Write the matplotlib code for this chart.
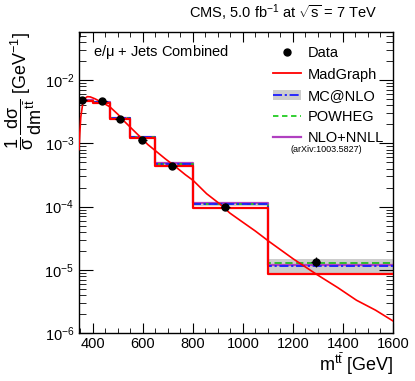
import numpy as np
import matplotlib
matplotlib.use("Agg")
import matplotlib.pyplot as plt
from matplotlib.lines import Line2D
from matplotlib.patches import Patch

plt.rcParams['font.family'] = ['Liberation Sans', 'DejaVu Sans']
plt.rcParams['mathtext.fontset'] = 'custom'
plt.rcParams['mathtext.rm'] = 'Liberation Sans'
plt.rcParams['mathtext.it'] = 'Liberation Sans'
plt.rcParams['mathtext.bf'] = 'Liberation Sans:bold'

# bin edges of m_ttbar [GeV]
edges = [345, 400, 470, 550, 650, 800, 1100, 1600]

# measured data
data_x = [358, 437, 508, 597, 717, 929, 1292]
data_y = [4.8e-3, 4.7e-3, 2.47e-3, 1.13e-3, 4.4e-4, 1.0e-4, 1.35e-5]
data_err = [2.5e-4, 2.2e-4, 1.2e-4, 6e-5, 2.5e-5, 7e-6, 2.5e-6]
data_xerr = [18, 18, 18, 18, 18, 18, 18]

# predictions (binned)
madgraph = [4.65e-3, 4.4e-3, 2.47e-3, 1.2e-3, 4.4e-4, 9.4e-5, 8.7e-6]
mcnlo = [4.75e-3, 4.55e-3, 2.55e-3, 1.25e-3, 4.8e-4, 1.1e-4, 1.16e-5]
mcnlo_lo = [4.6e-3, 4.4e-3, 2.48e-3, 1.21e-3, 4.6e-4, 1.02e-4, 8.3e-6]
mcnlo_hi = [4.9e-3, 4.7e-3, 2.62e-3, 1.29e-3, 5.0e-4, 1.14e-4, 1.46e-5]
powheg = [4.75e-3, 4.55e-3, 2.55e-3, 1.25e-3, 4.8e-4, 1.1e-4, 1.26e-5]
nnll = [4.8e-3, 4.6e-3, 2.57e-3, 1.27e-3, 4.9e-4, 1.15e-4, 1.18e-5]

# MadGraph smooth curve
curve_x = [345, 348, 352, 360, 370, 378, 390, 408, 440, 468, 500, 528, 560, 594,
           620, 648, 690, 721, 770, 801, 855, 908, 948, 988, 1050, 1105, 1200,
           1294, 1380, 1454, 1530, 1600]
curve_y = [8e-4, 1.4e-3, 2.6e-3, 4.3e-3, 5.2e-3, 5.5e-3, 5.45e-3, 5.1e-3, 4.4e-3,
           3.8e-3, 2.9e-3, 2.2e-3, 1.65e-3, 1.22e-3, 9.6e-4, 7.8e-4, 5.7e-4,
           4.6e-4, 3.2e-4, 2.6e-4, 1.6e-4, 1.1e-4, 7.9e-5, 6.1e-5, 4.1e-5,
           2.8e-5, 1.5e-5, 8.5e-6, 5.2e-6, 3.3e-6, 2.3e-6, 1.55e-6]


def steps(vals):
    return list(vals) + [vals[-1]]


fig = plt.figure(figsize=(4.15, 3.81), dpi=100)
ax = fig.add_axes([0.1904, 0.126, 0.7566, 0.790])

ax.fill_between(edges, steps(mcnlo_lo), steps(mcnlo_hi), step='post',
                color='#cccccc', lw=0, zorder=1)
ax.step(edges, steps(nnll), where='post', color='#b040c0', lw=1.6, zorder=2)
ax.step(edges, steps(powheg), where='post', color='#22bb22', lw=1.3,
        ls=(0, (4, 2)), zorder=3)
ax.step(edges, steps(mcnlo), where='post', color='#1a1aff', lw=1.3,
        ls=(0, (5, 1.5, 1.2, 1.5)), zorder=4)
ax.step(edges, steps(madgraph), where='post', color='#ff0000', lw=1.6, zorder=5)
ax.plot(curve_x, curve_y, color='#ff0000', lw=1.2, zorder=5)
ax.errorbar(data_x, data_y, yerr=data_err, xerr=data_xerr, fmt='o', color='black',
            ms=5, elinewidth=0.9, capsize=0, zorder=6)

ax.set_yscale('log')
ax.set_xlim(345, 1600)
ax.set_ylim(1e-6, 5.8e-2)
ax.set_xticks([400, 600, 800, 1000, 1200, 1400, 1600])
ax.set_xticks(np.arange(350, 1600, 50), minor=True)
ax.tick_params(which='both', direction='in', top=True, right=True, labelsize=10.5)
ax.tick_params(axis='x', which='major', length=7)
ax.tick_params(axis='x', which='minor', length=3.5)
ax.tick_params(axis='y', which='major', length=10)
ax.tick_params(axis='y', which='minor', length=5)
ax.tick_params(axis='x', pad=3)
for s in ax.spines.values():
    s.set_linewidth(1.0)

ax.set_xlabel(r'm$^{t\bar{t}}$ [GeV]', fontsize=13, loc='right', labelpad=0)
ax.set_ylabel(r'$\dfrac{1}{\sigma}\,\dfrac{d\sigma}{dm^{t\bar{t}}}$ [GeV$^{-1}$]',
              fontsize=13, loc='top', labelpad=0)

fig.text(0.91, 0.965, r'CMS, 5.0 fb$^{-1}$ at $\sqrt{s}$ = 7 TeV', ha='right',
         va='center', fontsize=10.5)
ax.text(0.045, 0.932, r'e/$\mu$ + Jets Combined', transform=ax.transAxes,
        fontsize=10.5, va='center')

handles = [
    Line2D([], [], marker='o', color='black', ls='none', ms=5),
    Line2D([], [], color='#ff0000', lw=1.3),
    (Patch(facecolor='#cccccc', edgecolor='none'),
     Line2D([], [], color='#1a1aff', lw=1.3, ls=(0, (5, 1.5, 1.2, 1.5)))),
    Line2D([], [], color='#22cc22', lw=1.3, ls=(0, (3, 2))),
    Line2D([], [], color='#b040c0', lw=1.6),
]
labels = ['Data', 'MadGraph', 'MC@NLO', 'POWHEG', 'NLO+NNLL']
ax.legend(handles, labels, loc='upper left', bbox_to_anchor=(0.6, 0.972),
          frameon=False, fontsize=10.5, handlelength=1.9, handletextpad=0.5,
          labelspacing=0.5, borderaxespad=0)
ax.text(0.672, 0.61, '(arXiv:1003.5827)', transform=ax.transAxes, fontsize=6.5,
        va='center')

fig.savefig('out.png', dpi=100)
